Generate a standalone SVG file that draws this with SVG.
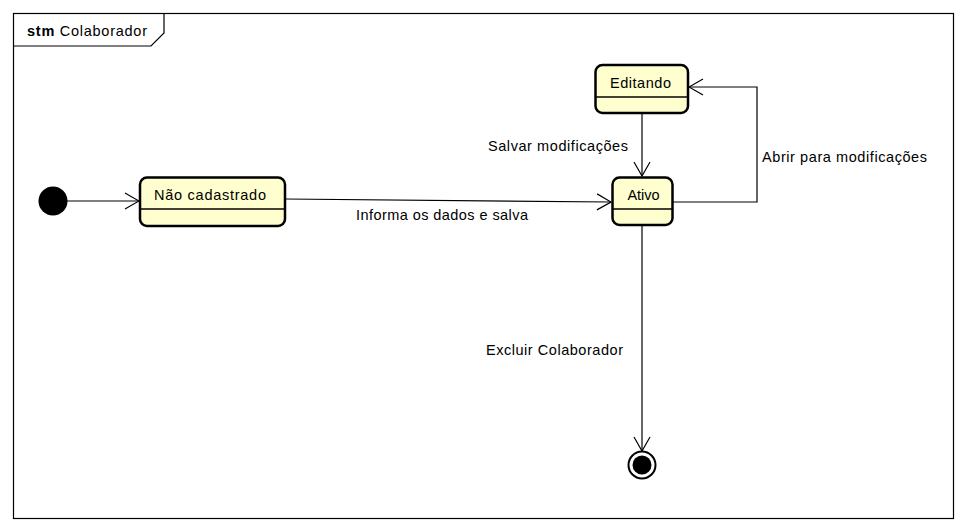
<svg xmlns="http://www.w3.org/2000/svg" width="966" height="532" viewBox="0 0 966 532">
<defs>
<style>
text{font-family:"Liberation Sans",Arial,sans-serif;font-size:14.5px;fill:#000}
.state{fill:#FEFECE;stroke:#000;stroke-width:2.5}
.sep{stroke:#000;stroke-width:1.5}
.edge{fill:none;stroke:#000;stroke-width:1.2}
</style>
<marker id="arr" viewBox="0 0 16 18" refX="15" refY="9" markerWidth="16" markerHeight="18" markerUnits="userSpaceOnUse" orient="auto">
<path d="M1,1 L15,9 L1,17" fill="none" stroke="#000" stroke-width="1.2"/>
</marker>
</defs>
<rect width="966" height="532" fill="#fff"/>
<g id="frame">
<rect x="13.5" y="13.5" width="940" height="505" fill="none" stroke="#000" stroke-width="1.2"/>
<path d="M13.5,46 L151,46 L164,33 L164,13.5" fill="none" stroke="#000" stroke-width="1.2"/>
<text x="27" y="36" textLength="120" lengthAdjust="spacing"><tspan font-weight="bold">stm</tspan> Colaborador</text>
</g>
<g id="connectors">
<line class="edge" x1="67" y1="201" x2="139" y2="201" marker-end="url(#arr)"/>
<line class="edge" x1="285" y1="199" x2="611" y2="202" marker-end="url(#arr)"/>
<text x="356" y="220" textLength="172" lengthAdjust="spacing">Informa os dados e salva</text>
<line class="edge" x1="642" y1="113" x2="642" y2="176" marker-end="url(#arr)"/>
<text x="488" y="151" textLength="140" lengthAdjust="spacing">Salvar modificações</text>
<polyline class="edge" points="673,202 757,202 757,87 689,87" marker-end="url(#arr)"/>
<text x="762" y="162" textLength="165" lengthAdjust="spacing">Abrir para modificações</text>
<line class="edge" x1="642" y1="225" x2="642" y2="451" marker-end="url(#arr)"/>
<text x="486" y="355" textLength="137" lengthAdjust="spacing">Excluir Colaborador</text>
</g>
<g id="initial">
<circle cx="53" cy="201" r="14.5" fill="#000"/>
</g>
<g id="nao-cadastrado">
<rect class="state" x="140" y="177.5" width="145" height="48.5" rx="7" ry="7"/>
<line class="sep" x1="141" y1="209" x2="284" y2="209"/>
<text x="154" y="200" textLength="112" lengthAdjust="spacing">Não cadastrado</text>
</g>
<g id="editando">
<rect class="state" x="595.5" y="65" width="92.5" height="48" rx="7" ry="7"/>
<line class="sep" x1="596" y1="97" x2="687" y2="97"/>
<text x="610" y="88" textLength="61" lengthAdjust="spacing">Editando</text>
</g>
<g id="ativo">
<rect class="state" x="612.5" y="177.5" width="60" height="47.5" rx="7" ry="7"/>
<line class="sep" x1="613" y1="209" x2="672" y2="209"/>
<text x="643.5" y="200" text-anchor="middle">Ativo</text>
</g>
<g id="final">
<circle cx="642" cy="465" r="13.5" fill="none" stroke="#000" stroke-width="2"/>
<circle cx="642" cy="465" r="9.5" fill="#000"/>
</g>
</svg>
